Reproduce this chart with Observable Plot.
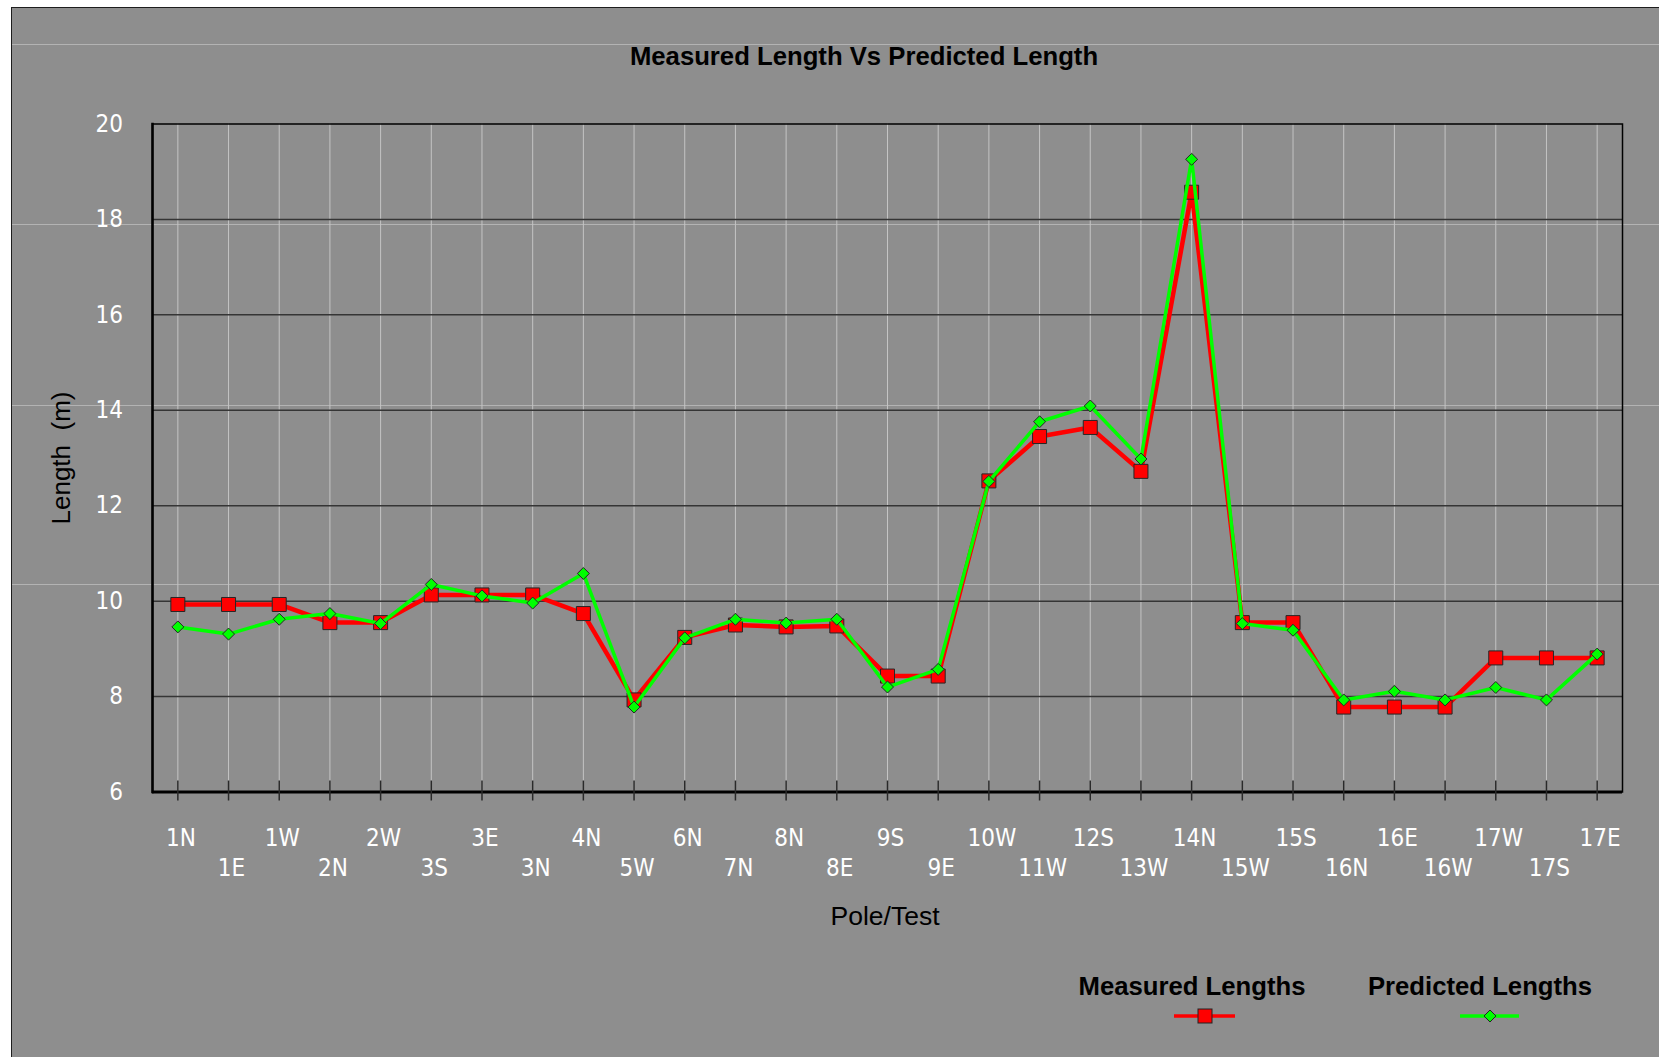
<!DOCTYPE html>
<html>
<head>
<meta charset="utf-8">
<script src="https://cdn.jsdelivr.net/npm/d3@7"></script>
<script src="https://cdn.jsdelivr.net/npm/@observablehq/plot@0.6"></script>
<style>
  html, body { margin: 0; padding: 0; }
  body { width: 1659px; height: 1057px; position: relative; overflow: hidden; background: #ffffff; font-family: "Liberation Sans", Arial, sans-serif; }
  #panel { position: absolute; left: 11px; top: 7px; right: 0; bottom: 0; background: #8e8e8e; border-left: 1.5px solid #1e1e1e; border-top: 1.5px solid #1e1e1e; }
  .streak { position: absolute; left: 12px; right: 0; height: 1px; background: #b3b3b3; }
  #chart { position: absolute; left: 0; top: 0; }
  .txt { position: absolute; white-space: pre; line-height: 1; color: #000; }
  #title { left: 864px; top: 44px; transform: translateX(-50%); font-size: 25.7px; font-weight: bold; }
  #ytitle { left: 61px; top: 457.5px; transform: translate(-50%, -50%) rotate(-90deg); font-size: 26px; }
  #xtitle { left: 885px; top: 903px; transform: translateX(-50%); font-size: 26.5px; }
  .legtext { font-size: 25.7px; font-weight: bold; transform: translateX(-50%); top: 973.5px; }
  .legsym { position: absolute; }
</style>
</head>
<body>
<div id="panel"></div>
<div class="streak" style="top:44px"></div>
<div class="streak" style="top:224px"></div>
<div class="streak" style="top:405px"></div>
<div class="streak" style="top:584px"></div>
<div id="chart"></div>
<div id="title" class="txt">Measured Length Vs Predicted Length</div>
<div id="ytitle" class="txt">Length  (m)</div>
<div id="xtitle" class="txt">Pole/Test</div>
<div class="txt legtext" style="left:1192px">Measured Lengths</div>
<div class="txt legtext" style="left:1480px">Predicted Lengths</div>
<svg class="legsym" style="left:1170px;top:1004px" width="70" height="24">
  <line x1="4" y1="12" x2="65" y2="12" stroke="#ff0000" stroke-width="3.5"/>
  <rect x="28" y="5" width="14" height="14" fill="#ff0000" stroke="#222" stroke-width="1"/>
</svg>
<svg class="legsym" style="left:1455px;top:1004px" width="70" height="24">
  <line x1="5" y1="12" x2="64" y2="12" stroke="#00ff00" stroke-width="3.5"/>
  <path d="M35,6 L41,12 L35,18 L29,12 Z" fill="#00ff00" stroke="#222" stroke-width="1"/>
</svg>
<script>
// ---- data ----
const categories = ["1N","1E","1W","2N","2W","3S","3E","3N","4N","5W","6N","7N","8N","8E","9S","9E","10W","11W","12S","13W","14N","15W","15S","16N","16E","16W","17W","17S","17E"];
const measuredLengths = [9.93,9.93,9.93,9.55,9.55,10.13,10.13,10.13,9.74,7.93,9.24,9.50,9.46,9.48,8.43,8.43,12.52,13.45,13.64,12.72,18.57,9.55,9.55,7.78,7.78,7.78,8.81,8.81,8.81];
const predictedLengths = [9.46,9.31,9.62,9.74,9.53,10.35,10.11,9.96,10.58,7.78,9.23,9.62,9.54,9.62,8.20,8.57,12.51,13.76,14.09,12.98,19.26,9.53,9.39,7.93,8.11,7.93,8.19,7.93,8.89];
const yDomain = [6, 20];
const yTicks = [6, 8, 10, 12, 14, 16, 18, 20];
const yGrid = [8, 10, 12, 14, 16, 18];

const rows = categories.map((c, i) => ({cat: c, measured: measuredLengths[i], predicted: predictedLengths[i]}));
const upperRow = categories.filter((d, i) => i % 2 === 0);
const lowerRow = categories.filter((d, i) => i % 2 === 1);

const tickFont = '"Liberation Sans Narrow", "Arial Narrow", "DejaVu Sans Condensed", "Roboto Condensed", sans-serif';

const chart = Plot.plot({
  width: 1659,
  height: 960,
  marginLeft: 152,
  marginRight: 37,
  marginTop: 123.5,
  marginBottom: 168.5,
  style: {background: "transparent", fontFamily: tickFont, fontStretch: "condensed", fontSize: "24px", overflow: "visible"},
  x: {type: "point", domain: categories, padding: 0.5, round: false, label: null},
  y: {domain: yDomain, label: null},
  marks: [
    Plot.gridX({stroke: "#c4c4c4", strokeOpacity: 1, strokeWidth: 1}),
    Plot.gridY(yGrid, {stroke: "#353535", strokeOpacity: 1, strokeWidth: 1.5}),
    Plot.frame({stroke: "#000", strokeWidth: 1.5}),
    Plot.frame({anchor: "left", stroke: "#000", strokeWidth: 2.5}),
    Plot.ruleY([yDomain[0]], {stroke: "#000", strokeWidth: 3}),
    Plot.ruleX(categories, {x: d => d, y1: yDomain[0], y2: yDomain[0], insetTop: -11, insetBottom: -9, stroke: "#2a2a2a", strokeWidth: 1.5}),
    Plot.axisY(yTicks, {anchor: "left", tickSize: 0, tickPadding: 29.5, fill: "#ffffff", label: null}),
    Plot.axisX(upperRow, {anchor: "bottom", tickSize: 0, tickPadding: 37.4, dx: 3, fill: "#ffffff", label: null}),
    Plot.axisX(lowerRow, {anchor: "bottom", tickSize: 0, tickPadding: 66.9, dx: 3, fill: "#ffffff", label: null}),
    Plot.line(rows, {x: "cat", y: "measured", stroke: "#ff0000", strokeWidth: 4.5}),
    Plot.dot(rows, {x: "cat", y: "measured", symbol: "square", r: 7.9, fill: "#ff0000", stroke: "#262626", strokeWidth: 1}),
    Plot.line(rows, {x: "cat", y: "predicted", stroke: "#00ff00", strokeWidth: 3.5}),
    Plot.dot(rows, {x: "cat", y: "predicted", symbol: "diamond2", r: 5.4, fill: "#00ff00", stroke: "#262626", strokeWidth: 1})
  ]
});
document.getElementById("chart").appendChild(chart);
</script>
</body>
</html>
